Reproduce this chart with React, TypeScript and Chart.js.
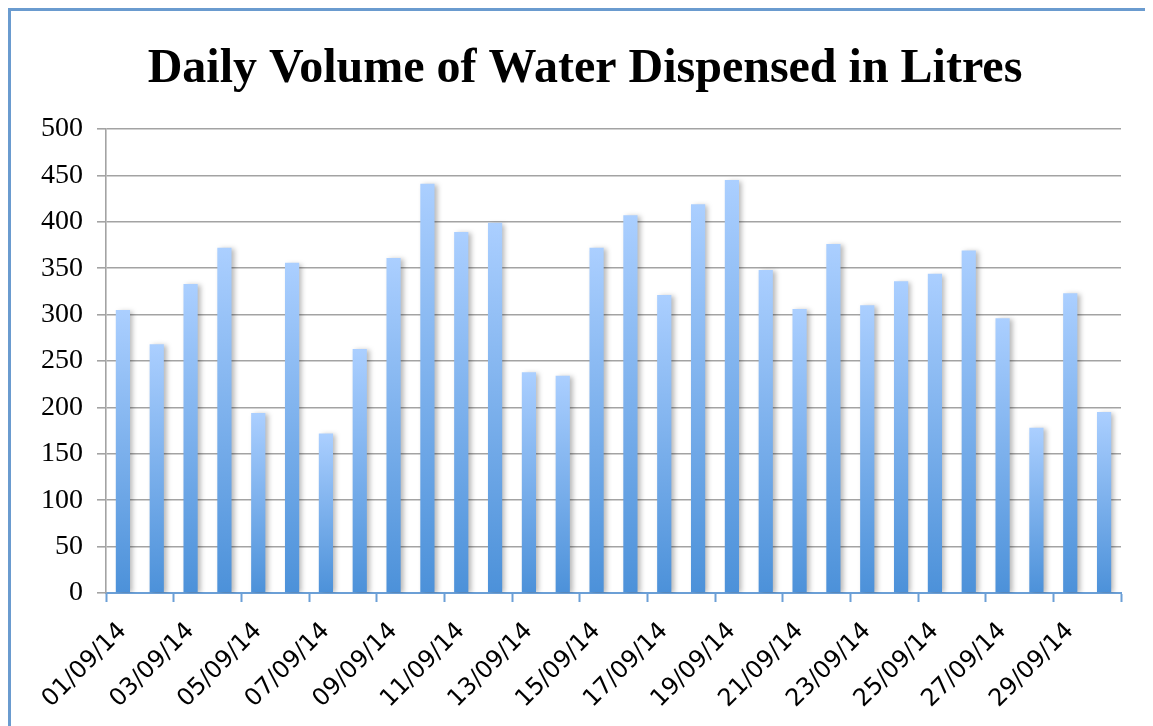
import React, { useEffect, useRef } from "react";
import { Chart, registerables } from "chart.js";

Chart.register(...registerables);

const categories: string[] = [
  "01/09/14", "02/09/14", "03/09/14", "04/09/14", "05/09/14", "06/09/14",
  "07/09/14", "08/09/14", "09/09/14", "10/09/14", "11/09/14", "12/09/14",
  "13/09/14", "14/09/14", "15/09/14", "16/09/14", "17/09/14", "18/09/14",
  "19/09/14", "20/09/14", "21/09/14", "22/09/14", "23/09/14", "24/09/14",
  "25/09/14", "26/09/14", "27/09/14", "28/09/14", "29/09/14", "30/09/14",
];

const volumes: number[] = [
  305, 268, 333, 372, 194, 356, 172, 263, 361, 441,
  389, 399, 238, 234, 372, 407, 321, 419, 445, 348,
  306, 376, 310, 336, 344, 369, 296, 178, 323, 195,
];

const yTicks: number[] = [0, 50, 100, 150, 200, 250, 300, 350, 400, 450, 500];

const TITLE = "Daily Volume of Water Dispensed in Litres";

const shadowPlugin = {
  id: "barShadow",
  beforeDatasetsDraw(chart: any) {
    const ctx = chart.ctx;
    ctx.save();
    ctx.shadowColor = "rgba(0,0,0,0.28)";
    ctx.shadowBlur = 5;
    ctx.shadowOffsetX = 3;
    ctx.shadowOffsetY = 1;
  },
  afterDatasetsDraw(chart: any) {
    chart.ctx.restore();
  },
};

const titlePlugin = {
  id: "centeredTitle",
  afterDraw(chart: any) {
    const ctx = chart.ctx;
    ctx.save();
    ctx.font = "bold 48px 'Liberation Serif', serif";
    ctx.fillStyle = "#000";
    ctx.textAlign = "center";
    ctx.textBaseline = "alphabetic";
    ctx.fillText(TITLE, 574, 71);
    ctx.restore();
  },
};

export default function App() {
  const ref = useRef<HTMLCanvasElement>(null);

  useEffect(() => {
    if (!ref.current) return;
    const chart = new Chart(ref.current, {
      type: "bar",
      data: {
        labels: categories,
        datasets: [
          {
            label: "Volume",
            data: volumes,
            barPercentage: 0.42,
            categoryPercentage: 1,
            borderWidth: 0,
            backgroundColor: (c: any) => {
              const ch = c.chart;
              if (!ch.chartArea || c.type !== "data") return "#8ab8f0";
              const y = ch.scales.y;
              const top = y.getPixelForValue(c.raw);
              const bot = y.getPixelForValue(0);
              const g = ch.ctx.createLinearGradient(0, top, 0, bot);
              g.addColorStop(0, "#abcfff");
              g.addColorStop(1, "#4c91d9");
              return g;
            },
          },
        ],
      },
      options: {
        animation: false,
        responsive: false,
        maintainAspectRatio: false,
        layout: { padding: { left: 0, right: 32, top: 118, bottom: 0 } },
        plugins: {
          legend: { display: false },
          tooltip: { enabled: false },
          title: { display: false },
        },
        scales: {
          x: {
            offset: true,
            grid: {
              offset: true,
              drawOnChartArea: false,
              drawTicks: true,
              tickLength: 9,
              tickWidth: 2,
              tickColor: (c: any) =>
                c.index === undefined || c.index % 2 === 0 ? "#6b9fd6" : "rgba(0,0,0,0)",
            },
            border: { color: "#6b9fd6", width: 2 },
            ticks: {
              autoSkip: false,
              maxRotation: 45,
              minRotation: 45,
              color: "#000",
              padding: 15,
              font: { family: "'DejaVu Sans', sans-serif", size: 24 },
              callback: (_v: any, i: number) => (i % 2 === 0 ? categories[i] : ""),
            },
            afterFit: (s: any) => {
              s.height = 133;
            },
          },
          y: {
            min: 0,
            max: 500,
            afterBuildTicks: (s: any) => {
              s.ticks = yTicks.map((v) => ({ value: v }));
            },
            grid: {
              color: "#a3a3a3",
              lineWidth: 1.6,
              tickLength: 9,
              tickColor: "#a3a3a3",
            },
            border: { color: "#a3a3a3", width: 1.6 },
            ticks: {
              color: "#000",
              padding: 14,
              font: { family: "'Liberation Serif', serif", size: 28 },
            },
            afterFit: (s: any) => {
              s.width = 95;
            },
          },
        },
      },
      plugins: [shadowPlugin, titlePlugin],
    });
    return () => chart.destroy();
  }, []);

  return (
    <div
      style={{
        position: "relative",
        width: 1145,
        height: 718,
        boxSizing: "border-box",
        borderLeft: "3px solid #6a9bcf",
        borderTop: "3px solid #6a9bcf",
        background: "#fff",
      }}
    >
      <canvas ref={ref} width={1142} height={715} style={{ display: "block" }} />
    </div>
  );
}
